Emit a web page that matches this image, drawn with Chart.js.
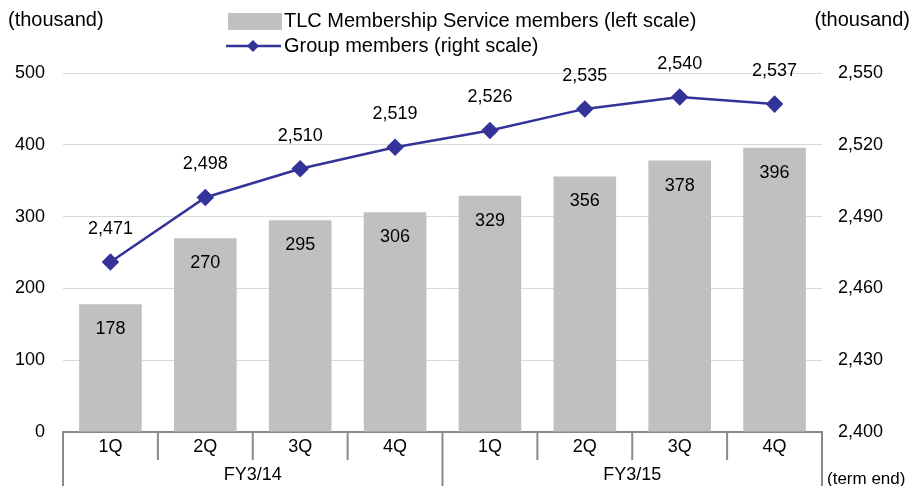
<!DOCTYPE html>
<html>
<head>
<meta charset="utf-8">
<script src="https://cdn.jsdelivr.net/npm/chart.js@4"></script>
<style>
  html, body { margin: 0; padding: 0; background: #fff; }
  canvas { display: block; }
</style>
</head>
<body>
<canvas id="chart" width="913" height="486"></canvas>
<script>
const quarters = ['1Q', '2Q', '3Q', '4Q', '1Q', '2Q', '3Q', '4Q']
const fiscalYears = ['FY3/14', 'FY3/15']
const tlcMembers = [178, 270, 295, 306, 329, 356, 378, 396]
const groupMembers = [2471, 2498, 2510, 2519, 2526, 2535, 2540, 2537]

const FONT = '"Liberation Sans", Arial, sans-serif'
const BAR_COLOR = '#c0c0c0'
const LINE_COLOR = '#333399'
const AXIS_COLOR = '#8a8a8a'
const fmt = (v) => Number(v).toLocaleString('en-US')

const extras = {
  id: 'extras',
  afterDraw(chart) {
    const {ctx, scales: {x}, chartArea} = chart
    ctx.save()
    ctx.fillStyle = '#000'
    ctx.font = '18px ' + FONT
    ctx.textAlign = 'center'
    ctx.textBaseline = 'middle'

    // bar values
    chart.getDatasetMeta(0).data.forEach((bar, i) => {
      ctx.fillText(fmt(tlcMembers[i]), bar.x, bar.y + 25)
    })
    // line values
    chart.getDatasetMeta(1).data.forEach((pt, i) => {
      ctx.fillText(fmt(groupMembers[i]), pt.x, pt.y - 33)
    })

    // category axis boxes
    const bottom = chartArea.bottom
    const half = (x.getPixelForValue(1) - x.getPixelForValue(0)) / 2
    ctx.strokeStyle = AXIS_COLOR
    ctx.lineWidth = 2
    for (let i = 0; i <= quarters.length; i++) {
      const px = i < quarters.length ? x.getPixelForValue(i) - half : x.getPixelForValue(i - 1) + half
      const long = i % 4 === 0
      ctx.beginPath()
      ctx.moveTo(px, bottom)
      ctx.lineTo(px, long ? chart.height : bottom + 28)
      ctx.stroke()
    }
    quarters.forEach((q, i) => {
      ctx.fillText(q, x.getPixelForValue(i), bottom + 15)
    })
    fiscalYears.forEach((fy, g) => {
      const mid = (x.getPixelForValue(g * 4) + x.getPixelForValue(g * 4 + 3)) / 2
      ctx.fillText(fy, mid, bottom + 43)
    })

    // unit labels
    ctx.font = '20px ' + FONT
    ctx.textAlign = 'left'
    ctx.fillText('(thousand)', 8, 20)
    ctx.textAlign = 'right'
    ctx.fillText('(thousand)', 910, 20)
    ctx.font = '17px ' + FONT
    ctx.textAlign = 'left'
    ctx.fillText('(term end)', 827, 479)

    // legend
    ctx.font = '20px ' + FONT
    ctx.fillStyle = BAR_COLOR
    ctx.fillRect(228, 13, 54, 17)
    ctx.fillStyle = '#000'
    ctx.fillText(chart.data.datasets[0].label, 284, 21)
    ctx.strokeStyle = LINE_COLOR
    ctx.lineWidth = 2.5
    ctx.beginPath()
    ctx.moveTo(226, 46)
    ctx.lineTo(281, 46)
    ctx.stroke()
    ctx.fillStyle = LINE_COLOR
    ctx.beginPath()
    ctx.moveTo(253, 40)
    ctx.lineTo(259, 46)
    ctx.lineTo(253, 52)
    ctx.lineTo(247, 46)
    ctx.closePath()
    ctx.fill()
    ctx.fillStyle = '#000'
    ctx.fillText(chart.data.datasets[1].label, 284, 46)
    ctx.restore()
  }
}

new Chart(document.getElementById('chart'), {
  data: {
    labels: quarters,
    datasets: [
      {
        type: 'bar',
        label: 'TLC Membership Service members (left scale)',
        data: tlcMembers,
        backgroundColor: BAR_COLOR,
        yAxisID: 'y',
        barPercentage: 0.66,
        categoryPercentage: 1,
        order: 2
      },
      {
        type: 'line',
        label: 'Group members (right scale)',
        data: groupMembers,
        borderColor: LINE_COLOR,
        backgroundColor: LINE_COLOR,
        borderWidth: 2.5,
        tension: 0,
        pointStyle: 'rectRot',
        pointRadius: 7,
        pointHoverRadius: 7,
        yAxisID: 'y1',
        order: 1
      }
    ]
  },
  options: {
    responsive: false,
    animation: false,
    devicePixelRatio: 1,
    layout: {padding: {top: 73, left: 0, right: 0, bottom: 0}},
    plugins: {legend: {display: false}, tooltip: {enabled: false}},
    scales: {
      x: {
        type: 'category',
        offset: true,
        grid: {display: false},
        border: {display: true, color: AXIS_COLOR, width: 2},
        ticks: {display: false},
        afterFit: (s) => { s.height = 54 }
      },
      y: {
        position: 'left',
        min: 0,
        max: 500,
        ticks: {stepSize: 100, color: '#000', font: {size: 18, family: FONT}, padding: 18},
        grid: {color: '#d9d9d9', lineWidth: 1, drawTicks: false},
        border: {display: false},
        afterFit: (s) => { s.width = 63 }
      },
      y1: {
        position: 'right',
        min: 2400,
        max: 2550,
        ticks: {stepSize: 30, color: '#000', font: {size: 18, family: FONT}, padding: 16, callback: (v) => fmt(v)},
        grid: {drawOnChartArea: false, drawTicks: false},
        border: {display: false},
        afterFit: (s) => { s.width = 91 }
      }
    }
  },
  plugins: [extras]
})
</script>
</body>
</html>
